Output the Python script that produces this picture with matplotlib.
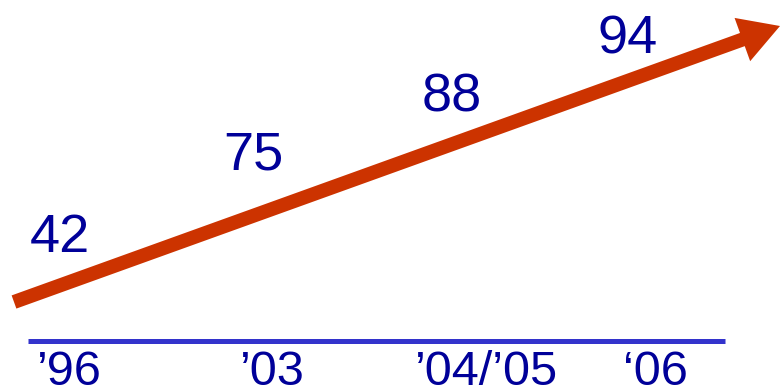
import matplotlib
matplotlib.use("Agg")
import matplotlib.pyplot as plt
from matplotlib.patches import FancyArrow

# Survey scores by period
periods = ["\u201996", "\u201903", "\u201904/\u201905", "\u201806"]
scores = [42, 75, 88, 94]

# Layout in pixel units (figure is 780 x 390)
score_x = [60, 253, 452, 628]
score_base = [252, 169, 112, 53]
period_x = [68, 271, 486, 655]
period_base = 385

navy = "#000099"
arrow_red = "#CC3300"
rule_blue = "#3333CC"

fig = plt.figure(figsize=(7.8, 3.9), dpi=100)
ax = fig.add_axes([0, 0, 1, 1])
ax.set_xlim(0, 780)
ax.set_ylim(390, 0)
ax.axis("off")

# Rising trend arrow
ax.add_patch(FancyArrow(14, 302, 766, -276, width=14, head_width=46,
                        head_length=40, length_includes_head=True,
                        color=arrow_red, lw=0))

# Baseline rule
ax.plot([28, 725], [341, 341], color=rule_blue, lw=3.6, solid_capstyle="butt")

for x, y, s in zip(score_x, score_base, scores):
    ax.text(x, y, str(s), ha="center", va="baseline", fontsize=39,
            color=navy, family="Liberation Sans")

for x, lab in zip(period_x, periods):
    ax.text(x, period_base, lab, ha="center", va="baseline", fontsize=35,
            color=navy, family="Liberation Sans")

fig.savefig("out.png", dpi=100)
